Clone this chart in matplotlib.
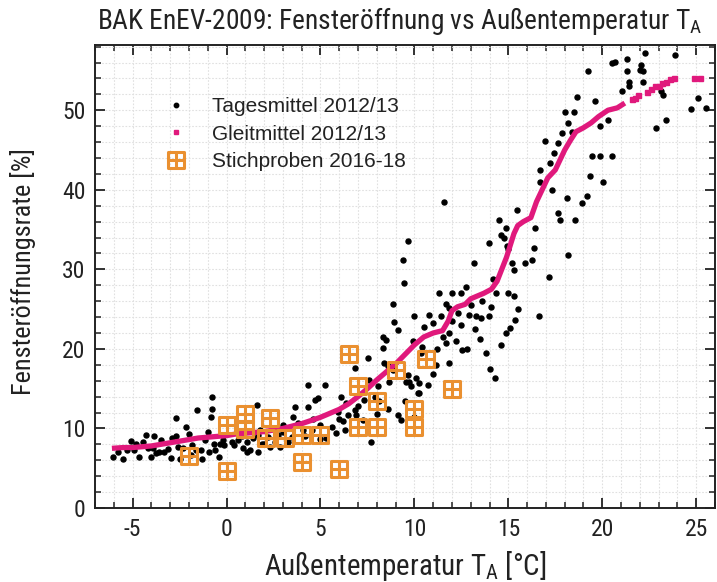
import matplotlib
matplotlib.use("Agg")
import matplotlib.pyplot as plt
from matplotlib import font_manager
from matplotlib.lines import Line2D
from matplotlib.path import Path
from matplotlib.ticker import MultipleLocator

names = {f.name for f in font_manager.fontManager.ttflist}
NARROW = 'DejaVu Sans'
for cand in ['Liberation Sans Narrow', 'Roboto Condensed', 'Archivo Narrow', 'Barlow Semi Condensed']:
    if cand in names:
        NARROW = cand
        break
REG = 'Liberation Sans'

# ---------------- data ----------------
# Tagesmittel 2012/13 (daily means)
tm_x = [-6.06, -5.53, -5.09, -4.9, -4.65, -4.47, -4.3, -4.2, -4.03, -3.86, -3.77, -3.6, -3.33, -2.97,
        -2.7, -2.7, -2.6, -2.18, -2.5, -1.82, -1.65, -1.56, -1.38, -1.3, -1.12, -0.94, -0.85, -0.76,
        -0.76, -0.68, -0.59, -0.41, -0.33, -0.15, 0.29, 0.38, 0.82, 1.09, 1.09, 1.26, 1.62, 1.7, 1.7,
        1.88, -5.8, -5.3, -4.8, -3.9, -3.1, -2.9, -2.3, -1.9, -1.0, -0.2, 0.6, 0.9, 1.4, -3.5, -2.0,
        1.8, 1.97, 2.32, 2.59, 2.76, 2.85, 3.03, 3.29, 3.56, 3.64, 3.82, 4.08, 4.35, 4.35, 4.53, 4.7,
        4.88, 4.97, 5.23, 5.32, 5.59, 5.85, 5.94, 6.1, 6.2, 6.29, 6.38, 6.47, 6.82, 6.82, 6.9, 7.26,
        7.53, 7.6, 7.7, 7.88, 8.05, 8.14, 8.32, 8.5, 8.32, 8.4, 8.58, 8.94, 9.11, 8.85, 8.67, 9.11,
        9.29, 9.56, 9.64, 9.82, 10.09, 10.17, 10.26, 10.35, 10.0, 2.2, 3.5, 4.2, 5.0, 6.0, 7.0, 8.0,
        8.6, 9.5, 3.0, 4.6, 7.3,
        8.85, 9.38, 9.47, 9.64, 10.0, 10.8, 11.32, 11.4, 11.68, 11.85, 11.59, 12.0, 12.47, 12.73,
        12.9, 13.17, 13.26, 13.53, 13.97, 13.97, 14.06, 14.32, 14.5, 14.59, 14.76, 14.85, 14.94,
        15.0, 15.0, 15.2, 15.29, 15.29, 15.38, 15.47, 15.91, 16.26, 16.35, 16.44, 16.62, 16.7, 16.7,
        16.97, 17.14, 17.23, 17.32, 17.41, 17.67, 17.67, 17.76, 17.85, 18.03, 18.12, 18.2, 18.2,
        18.38, 18.47, 18.56, 18.64, 18.9, 19.17, 19.26, 19.44, 19.35, 19.61, 19.88, 19.88, 20.06,
        20.32, 20.5, 20.5, 20.68, 21.03, 21.29, 21.29, 21.4, 21.4, 22.0, 22.08, 22.17, 22.17, 22.26,
        22.88, 23.14, 23.23, 23.4, 23.85, 24.73, 25.09, 25.5,
        11.5, 11.68, 11.85, 11.15, 10.97, 10.7, 10.26, 9.73, 12.56, 11.85, 12.2, 12.8, 13.2, 13.5,
        13.8, 14.0, 14.3, 14.6, 14.9, 13.0, 12.5, 12.0, 15.1, 15.5, 10.5, 11.0, 13.6, 14.2, 9.9,
        10.4, 11.2, 12.3]
tm_y = [6.45, 6.1, 8.4, 7.3, 6.45, 8.35, 9.2, 7.5, 6.45, 9.0, 6.9, 7.1, 7.1, 6.25,
        11.3, 9.0, 7.7, 10.2, 6.2, 7.9, 7.3, 12.3, 7.3, 6.2, 8.55, 7.1, 11.5, 12.5,
        14.0, 8.1, 7.3, 6.45, 8.1, 7.9, 8.35, 7.9, 9.0, 8.35, 7.1, 7.3, 13.0, 9.2, 7.1,
        8.1, 7.0, 7.3, 8.0, 7.6, 7.4, 8.8, 7.5, 6.7, 9.5, 8.6, 8.5, 7.6, 8.8, 8.6, 9.3,
        9.8, 8.1, 7.7, 8.35, 9.2, 7.7, 9.6, 8.35, 11.5, 12.7, 10.65, 9.8, 15.5, 12.7, 9.8, 13.6,
        13.8, 10.4, 15.5, 8.8, 10.2, 9.4, 12.1, 14.0, 10.9, 9.8, 13.2, 11.7, 17.6, 12.3, 11.7, 11.1,
        18.8, 16.1, 8.35, 14.0, 15.3, 13.4, 21.5, 21.1, 20.1, 18.2, 17.8, 23.4, 22.4, 17.4, 15.9, 11.7,
        11.1, 15.9, 16.7, 15.3, 16.3, 14.4, 15.7, 19.5, 11.5, 8.9, 8.9, 9.0, 8.7, 11.2, 12.8, 11.8,
        12.5, 13.5, 10.4, 11.2, 13.6,
        25.7, 31.2, 28.3, 33.5, 24.1, 24.3, 27.0, 24.1, 25.7, 25.1, 38.5, 27.0, 27.0, 27.8,
        24.3, 30.8, 24.1, 23.9, 33.3, 24.1, 25.3, 27.0, 36.2, 34.3, 33.9, 35.2, 32.9,
        32.5, 27.0, 30.8, 29.9, 26.6, 23.6, 37.5, 30.8, 31.2, 32.7, 35.2, 24.1, 41.0, 42.5,
        46.1, 29.1, 43.4, 40.0, 44.6, 45.9, 37.1, 36.2, 47.1, 49.8, 39.0, 31.8, 48.4,
        47.3, 49.8, 36.2, 51.7, 38.3, 39.2, 54.9, 44.2, 41.7, 51.1, 44.2, 48.0, 41.0,
        48.8, 44.2, 55.9, 56.1, 52.4, 54.9, 56.4, 53.6, 53.0, 55.1, 55.7, 54.9, 53.6, 57.2,
        47.8, 52.4, 51.9, 48.8, 57.0, 50.1, 51.5, 50.3,
        21.5, 20.7, 18.2, 18.0, 16.9, 15.5, 14.4, 15.9, 19.9, 22.0, 21.0, 20.0, 22.5, 21.3,
        19.5, 17.5, 16.3, 20.5, 22.0, 25.5, 23.0, 23.5, 22.6, 25.0, 22.8, 23.2, 26.0, 28.8, 21.0,
        20.3, 20.0, 24.5]

# Gleitmittel 2012/13 (moving average) - continuous part
gm_x = [-6.1, -5.5, -5.0, -4.5, -4.0, -3.5, -3.0, -2.5, -2.0, -1.5, -1.0, -0.5, 0.0, 0.5, 1.0,
        1.5, 2.0, 2.5, 3.0, 3.5, 4.0, 4.5, 5.0, 5.5, 6.0, 6.5, 7.0, 7.5, 8.0, 8.5, 9.0, 9.5, 10.0,
        10.5, 11.0, 11.5, 11.8, 12.0, 12.3, 12.7, 13.0, 13.3, 13.7, 14.1, 14.4, 14.7, 14.9, 15.1,
        15.3, 15.5, 15.8, 16.2, 16.5, 16.8, 17.1, 17.5, 17.8, 18.0, 18.3, 18.6, 19.0, 19.4, 19.8,
        20.3, 20.8, 21.2]
gm_y = [7.5, 7.6, 7.6, 7.7, 7.8, 8.0, 8.2, 8.4, 8.6, 8.8, 8.9, 9.0, 9.1, 9.3, 9.4,
        9.5, 9.6, 9.8, 10.0, 10.3, 10.6, 11.0, 11.4, 11.9, 12.4, 13.1, 14.0, 15.0, 16.1, 17.1,
        18.1, 19.3, 20.5, 21.5, 22.0, 22.3, 23.5, 24.8, 25.3, 25.6, 26.3, 26.6, 27.0, 27.5, 28.5,
        30.3, 31.5, 33.0, 34.5, 35.5, 36.0, 36.5, 38.5, 40.0, 41.5, 42.5, 44.0, 45.0, 46.2, 47.3,
        47.8, 48.4, 49.2, 50.0, 50.3, 50.9]
# Gleitmittel - isolated points at the warm end
gm_tail_x = [21.6, 21.75, 21.9, 22.4, 22.6, 22.8, 23.0, 23.2, 23.4, 23.6, 23.8, 24.9, 25.2]
gm_tail_y = [51.4, 51.6, 51.9, 52.3, 52.7, 53.0, 53.1, 53.4, 53.6, 53.9, 54.1, 54.1, 54.1]

# Stichproben 2016-18 (samples)
sp_x = [-2.0, 0.0, 0.0, 1.0, 1.0, 2.3, 2.1, 3.1, 4.0, 5.0, 4.0, 6.0, 6.5, 7.0, 7.0, 8.0, 8.0,
        9.0, 10.0, 10.0, 10.6, 12.0]
sp_y = [6.5, 4.7, 10.4, 11.8, 9.9, 11.3, 8.8, 8.8, 9.2, 9.2, 5.8, 4.9, 19.4, 15.3, 10.2, 13.4,
        10.2, 17.4, 12.5, 10.2, 18.7, 14.9]

labels = ['Tagesmittel 2012/13', 'Gleitmittel 2012/13', 'Stichproben 2016-18']
title = 'BAK EnEV-2009: Fensteröffnung vs Außentemperatur T$_\\mathrm{A}$'
xlabel = 'Außentemperatur T$_\\mathrm{A}$ [°C]'
ylabel = 'Fensteröffnungsrate [%]'

# ---------------- style ----------------
MAG = '#e0197c'
ORA = '#ea9030'
INK = '#222222'
plt.rcParams['mathtext.fontset'] = 'custom'
plt.rcParams['mathtext.rm'] = NARROW
plt.rcParams['mathtext.it'] = NARROW
plt.rcParams['axes.unicode_minus'] = False

fig = plt.figure(figsize=(7.17, 5.82), dpi=100)
ax = fig.add_axes([95/717, 1-508/582, 620/717, 463/582])
ax.set_xlim(-7, 26)
ax.set_ylim(0, 58.2)

ax.xaxis.set_major_locator(MultipleLocator(5))
ax.xaxis.set_minor_locator(MultipleLocator(1))
ax.yaxis.set_major_locator(MultipleLocator(10))
ax.yaxis.set_minor_locator(MultipleLocator(2))
ax.grid(which='both', color='#e0e0e0', linestyle=(0, (1.5, 1.5)), linewidth=0.8)
ax.set_axisbelow(True)
ax.tick_params(which='both', direction='in', top=True, right=True, color=INK)
ax.tick_params(which='major', length=7, width=1.3, labelsize=17, pad=7)
ax.tick_params(which='minor', length=4, width=1.1)
for lab in ax.get_xticklabels() + ax.get_yticklabels():
    lab.set_fontfamily(NARROW)
    lab.set_color(INK)
for s in ax.spines.values():
    s.set_linewidth(1.4)
    s.set_color(INK)

# marker: square with cross
box_path = Path([(-1, -1), (1, -1), (1, 1), (-1, 1), (-1, -1), (0, -1), (0, 1), (-1, 0), (1, 0)],
                [Path.MOVETO, Path.LINETO, Path.LINETO, Path.LINETO, Path.CLOSEPOLY,
                 Path.MOVETO, Path.LINETO, Path.MOVETO, Path.LINETO])

ax.plot(tm_x, tm_y, ls='none', marker='o', ms=3.6, color='black', zorder=3)
ax.plot(gm_x, gm_y, ls='-', lw=3.8, color=MAG, solid_capstyle='butt', zorder=4)
ax.plot(gm_tail_x, gm_tail_y, ls='none', marker='s', ms=3.6, color=MAG, zorder=4)
ax.plot(sp_x, sp_y, ls='none', marker=box_path, ms=12, mfc='none', mec=ORA, mew=2.2, zorder=5)

h1 = Line2D([], [], ls='none', marker='o', ms=3.2, color='black')
h2 = Line2D([], [], ls='none', marker='s', ms=3.2, color=MAG)
h3 = Line2D([], [], ls='none', marker=box_path, ms=12, mfc='none', mec=ORA, mew=2.2)
leg = ax.legend([h1, h2, h3], labels, loc='upper left', bbox_to_anchor=(0.101, 0.905),
                frameon=False, prop={'family': REG, 'size': 15}, handlelength=1.0,
                handletextpad=1.2, labelspacing=0.4, borderaxespad=0)
for t in leg.get_texts():
    t.set_color(INK)

t_title = fig.text(97/717, 1-29/582, title, fontsize=19, family=NARROW, color=INK,
                   ha='left', va='baseline')
t_x = fig.text(405/717, 1-575/582, xlabel, fontsize=19, family=NARROW, color=INK,
               ha='center', va='baseline')
t_y = fig.text(23/717, 1-272/582, ylabel, fontsize=19, family=NARROW, color=INK,
               ha='center', va='center', rotation=90)

# fit text widths to the reference extents (pixels)
fig.canvas.draw()
r = fig.canvas.get_renderer()
for t, target, horiz in [(t_title, 606, True), (t_x, 283, True), (t_y, 247, False)]:
    bb = t.get_window_extent(r)
    cur = bb.width if horiz else bb.height
    t.set_fontsize(t.get_fontsize() * target / cur)

fig.savefig('out.png', dpi=100)
